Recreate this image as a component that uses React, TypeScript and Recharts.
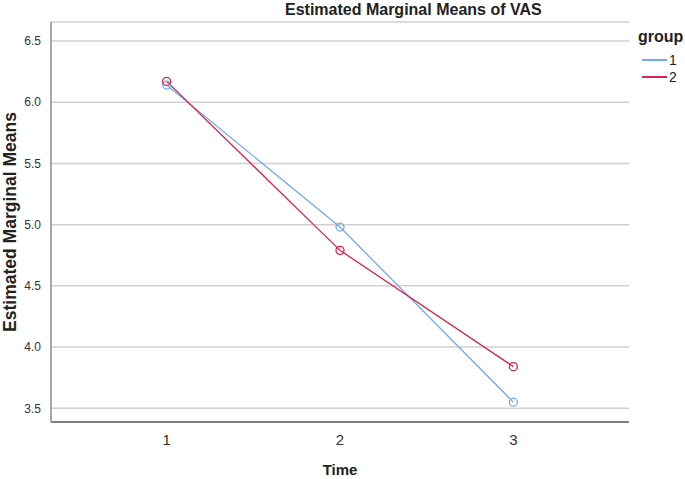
import React from 'react';
import { LineChart, Line, XAxis, YAxis, CartesianGrid } from 'recharts';

const times = [1, 2, 3];
const group1 = [6.14, 4.98, 3.55];
const group2 = [6.17, 4.79, 3.84];
const yTicks = [3.5, 4.0, 4.5, 5.0, 5.5, 6.0, 6.5];
const groups = [
  { key: 'g1', name: '1', color: '#74a9ee' },
  { key: 'g2', name: '2', color: '#dc2450' },
];

const data = times.map((t, i) => ({ time: t, g1: group1[i], g2: group2[i] }));

const FONT = 'Arial, "Liberation Sans", sans-serif';

function GroupLegend() {
  return (
    <div style={{ position: 'absolute', left: 638, top: 28, fontFamily: FONT, color: '#222' }}>
      <div style={{ fontWeight: 'bold', fontSize: 16, lineHeight: '18px', marginBottom: 5 }}>group</div>
      {groups.map((g) => (
        <div key={g.key} style={{ display: 'flex', alignItems: 'center', height: 17, fontSize: 14, marginLeft: 4 }}>
          <span style={{ display: 'inline-block', width: 25, height: 2, background: g.color, marginRight: 2 }} />
          {g.name}
        </div>
      ))}
    </div>
  );
}

export default function App() {
  return (
    <div style={{ position: 'absolute', left: 0, top: 0, width: 685, height: 479, background: '#fff' }}>
      <LineChart width={685} height={479} data={data} margin={{ top: 22, right: 56, left: 0, bottom: 0 }}>
        <CartesianGrid vertical={false} stroke="#d0d0d0" strokeWidth={1.5} />
        <XAxis
          dataKey="time"
          type="number"
          domain={[0.333, 3.667]}
          ticks={times}
          height={57}
          tickLine={false}
          axisLine={{ stroke: '#808080', strokeWidth: 2 }}
          tick={{ fill: '#333', fontSize: 15, fontFamily: FONT }}
          tickMargin={6}
          label={{ value: 'Time', position: 'insideBottom', offset: 4, fill: '#222', fontSize: 15, fontWeight: 'bold', fontFamily: FONT }}
        />
        <YAxis
          type="number"
          domain={[3.388, 6.655]}
          ticks={yTicks}
          allowDataOverflow
          width={51}
          tickLine={false}
          axisLine={{ stroke: '#8a8a8a', strokeWidth: 1.5 }}
          tickFormatter={(v: number) => v.toFixed(1)}
          tick={{ fill: '#333', fontSize: 12, fontFamily: FONT }}
          tickMargin={4}
        />
        {groups.map((g) => (
          <Line
            key={g.key}
            dataKey={g.key}
            name={g.name}
            stroke={g.color}
            strokeWidth={1.3}
            dot={{ r: 4, stroke: g.color, strokeWidth: 1.3, fill: 'none' }}
            isAnimationActive={false}
          />
        ))}
      </LineChart>
      <div
        style={{
          position: 'absolute', left: 285, top: 0, lineHeight: '20px',
          fontFamily: FONT, fontWeight: 'bold', fontSize: 16, color: '#222', whiteSpace: 'nowrap',
        }}
      >
        Estimated Marginal Means of VAS
      </div>
      <div
        style={{
          position: 'absolute', left: 10, top: 222, width: 260, marginLeft: -130, marginTop: -10,
          height: 20, lineHeight: '20px', textAlign: 'center', transform: 'rotate(-90deg)',
          fontFamily: FONT, fontWeight: 'bold', fontSize: 17.5, color: '#222', whiteSpace: 'nowrap',
        }}
      >
        Estimated Marginal Means
      </div>
      <GroupLegend />
    </div>
  );
}
